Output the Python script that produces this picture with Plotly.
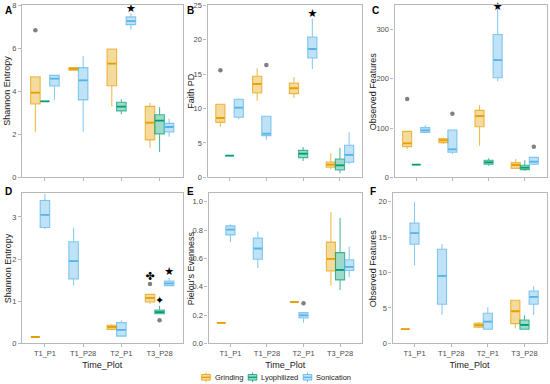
import plotly.graph_objects as go

CATEGORIES = ["T1_P1", "T1_P28", "T2_P1", "T3_P28"]
GROUPS = ["Grinding", "Lyophilized", "Sonication"]
COLORS = {"Grinding": "#E69F00", "Lyophilized": "#009E73", "Sonication": "#56B4E9"}

# rows: (category, lower whisker, q1, median, q3, upper whisker)
A_GRINDING = [("T1_P1", 2.09, 3.41, 3.94, 4.68, 4.68), ("T1_P28", 4.98, 4.98, 5.04, 5.10, 5.10),
              ("T2_P1", 3.29, 4.26, 5.29, 5.97, 5.97), ("T3_P28", 1.38, 1.74, 2.54, 3.30, 3.47)]
A_LYOPHILIZED = [("T1_P1", 3.53, 3.53, 3.53, 3.53, 3.53), ("T2_P1", 2.93, 3.09, 3.29, 3.49, 3.63),
                 ("T3_P28", 1.18, 2.02, 2.64, 2.91, 3.26)]
A_SONICATION = [("T1_P1", 3.60, 4.25, 4.59, 4.74, 4.74), ("T1_P28", 2.12, 3.60, 4.51, 5.10, 5.64),
                ("T2_P1", 6.87, 7.10, 7.26, 7.46, 7.63), ("T3_P28", 1.89, 2.11, 2.34, 2.51, 2.74)]
A_OUTLIERS = [("T1_P1", "Grinding", 6.84)]
A_MARKS = [("T2_P1", "Sonication", 7.84, "★")]

B_GRINDING = [("T1_P1", 7.36, 7.99, 8.62, 10.61, 10.61), ("T1_P28", 11.14, 12.26, 13.57, 14.68, 15.84),
              ("T2_P1", 11.53, 12.16, 12.94, 13.71, 14.53), ("T3_P28", 1.16, 1.45, 1.84, 2.23, 3.49)]
B_LYOPHILIZED = [("T1_P1", 3.15, 3.15, 3.15, 3.15, 3.15), ("T2_P1", 2.37, 2.86, 3.44, 3.92, 4.41),
                 ("T3_P28", 0.58, 1.07, 1.74, 2.66, 4.31)]
B_SONICATION = [("T1_P1", 8.43, 8.72, 10.13, 11.34, 11.48), ("T1_P28", 5.47, 6.06, 6.35, 8.87, 8.87),
                ("T2_P1", 15.75, 17.34, 18.65, 20.40, 23.06), ("T3_P28", 1.89, 2.18, 3.25, 4.65, 6.54)]
B_OUTLIERS = [("T1_P1", "Grinding", 15.55), ("T1_P28", "Sonication", 16.33)]
B_MARKS = [("T2_P1", "Sonication", 23.74, "★")]

C_GRINDING = [("T1_P1", 57.4, 62.2, 68.9, 93.2, 93.2), ("T1_P28", 67.6, 70.3, 75.0, 78.4, 80.4),
              ("T2_P1", 64.2, 102.7, 124.3, 135.8, 146.0), ("T3_P28", 16.9, 18.2, 25.0, 29.7, 37.2)]
C_LYOPHILIZED = [("T1_P1", 25.7, 25.7, 25.7, 25.7, 25.7), ("T2_P1", 23.6, 26.4, 30.4, 34.5, 38.5),
                 ("T3_P28", 12.8, 15.5, 19.6, 24.3, 34.5)]
C_SONICATION = [("T1_P1", 91.2, 91.2, 95.3, 100.7, 105.4), ("T1_P28", 47.3, 50.7, 56.8, 95.9, 95.9),
                ("T2_P1", 195.3, 202.0, 237.8, 289.9, 342.6), ("T3_P28", 25.0, 26.4, 31.8, 40.5, 40.5)]
C_OUTLIERS = [("T1_P1", "Grinding", 158.8), ("T1_P28", "Sonication", 129.0), ("T3_P28", "Sonication", 62.2)]
C_MARKS = [("T2_P1", "Sonication", 346.0, "★")]

D_GRINDING = [("T1_P1", 0.15, 0.15, 0.15, 0.15, 0.15), ("T2_P1", 0.31, 0.33, 0.39, 0.43, 0.46),
              ("T3_P28", 0.93, 0.98, 1.08, 1.16, 1.16)]
D_LYOPHILIZED = [("T3_P28", 0.70, 0.70, 0.74, 0.79, 0.89)]
D_SONICATION = [("T1_P1", 2.71, 2.75, 3.05, 3.39, 3.55), ("T1_P28", 1.38, 1.53, 1.95, 2.41, 2.74),
                ("T2_P1", 0.16, 0.17, 0.32, 0.49, 0.55), ("T3_P28", 1.37, 1.37, 1.42, 1.48, 1.55)]
D_OUTLIERS = [("T3_P28", "Grinding", 1.41), ("T3_P28", "Lyophilized", 0.55)]
D_MARKS = [("T3_P28", "Grinding", 1.57, "✤"), ("T3_P28", "Lyophilized", 1.0, "✦"),
           ("T3_P28", "Sonication", 1.69, "★")]

E_GRINDING = [("T1_P1", 0.144, 0.144, 0.144, 0.144, 0.144), ("T2_P1", 0.292, 0.292, 0.292, 0.292, 0.292),
              ("T3_P28", 0.408, 0.512, 0.597, 0.715, 0.927)]
E_LYOPHILIZED = [("T3_P28", 0.377, 0.448, 0.519, 0.641, 0.885)]
E_SONICATION = [("T1_P1", 0.715, 0.766, 0.804, 0.830, 0.840), ("T1_P28", 0.533, 0.594, 0.670, 0.743, 0.790),
                ("T2_P1", 0.146, 0.179, 0.198, 0.217, 0.217), ("T3_P28", 0.467, 0.514, 0.540, 0.590, 0.684)]
E_OUTLIERS = [("T2_P1", "Sonication", 0.283)]
E_MARKS = []

F_GRINDING = [("T1_P1", 2.0, 2.0, 2.0, 2.0, 2.0), ("T2_P1", 2.12, 2.26, 2.55, 2.83, 3.0),
              ("T3_P28", 2.12, 2.78, 4.53, 6.09, 6.09)]
F_LYOPHILIZED = [("T3_P28", 1.98, 1.98, 2.59, 3.30, 3.96)]
F_SONICATION = [("T1_P1", 11.04, 14.0, 15.57, 17.0, 19.96), ("T1_P28", 4.05, 5.52, 9.53, 13.3, 14.05),
                ("T2_P1", 1.98, 1.98, 3.06, 4.25, 5.1), ("T3_P28", 4.05, 5.52, 6.55, 7.4, 8.07)]
F_OUTLIERS = []
F_MARKS = []

Y_TITLES = ["Shannon Entropy", "Faith PD", "Observed Features",
            "Shannon Entropy", "Pielou's Evenness", "Observed Features"]
LETTERS = ["A", "B", "C", "D", "E", "F"]
Y_RANGES = [[0, 8], [0, 25], [0, 349], [0, 3.56], [0, 1.06], [0, 21.2]]
Y_TICKS = [[0, 2, 4, 6, 8], [0, 5, 10, 15, 20, 25], [0, 100, 200, 300],
           [0, 1, 2, 3], [0, 0.2, 0.4, 0.6, 0.8, 1.0], [0, 5, 10, 15, 20]]
PANEL_DATA = [
    (A_GRINDING, A_LYOPHILIZED, A_SONICATION, A_OUTLIERS, A_MARKS),
    (B_GRINDING, B_LYOPHILIZED, B_SONICATION, B_OUTLIERS, B_MARKS),
    (C_GRINDING, C_LYOPHILIZED, C_SONICATION, C_OUTLIERS, C_MARKS),
    (D_GRINDING, D_LYOPHILIZED, D_SONICATION, D_OUTLIERS, D_MARKS),
    (E_GRINDING, E_LYOPHILIZED, E_SONICATION, E_OUTLIERS, E_MARKS),
    (F_GRINDING, F_LYOPHILIZED, F_SONICATION, F_OUTLIERS, F_MARKS),
]

# ---- layout (pixels) ----
W, H = 550, 384
PANEL_PX = [(22, 182.5, 5.3, 177.3), (207.5, 362, 5.3, 177.3), (394.5, 546.5, 5.3, 177.3),
            (22, 182.5, 193.3, 343.3), (208.5, 362, 193.3, 343.3), (392.5, 546.5, 193.3, 343.3)]
YTITLE_X = [7.5, 191.5, 373, 8, 191, 373]
LETTER_POS = [(8, 10.5), (190.5, 10.5), (375, 10.5), (8.5, 191.5), (190.5, 191.5), (372.5, 191.5)]
FONT = "Liberation Sans, Arial, sans-serif"
DODGE = 0.25
BORDER = "#B8B8B8"


def px(x):
    return x / W


def py(y):
    return 1 - y / H


def rgba(hexc, a):
    h = hexc.lstrip("#")
    return "rgba(%d,%d,%d,%.2f)" % (int(h[0:2], 16), int(h[2:4], 16), int(h[4:6], 16), a)


fig = go.Figure()
annotations = []
shapes = []

for i, (g_rows, l_rows, s_rows, outliers, marks) in enumerate(PANEL_DATA):
    n = i + 1
    xa = "x" if n == 1 else "x%d" % n
    ya = "y" if n == 1 else "y%d" % n
    rows_by_group = {"Grinding": g_rows, "Lyophilized": l_rows, "Sonication": s_rows}
    # dodge positions: present groups fill slots from the left
    pos = {}
    for ci, cat in enumerate(CATEGORIES):
        present = [g for g in GROUPS if any(r[0] == cat for r in rows_by_group[g])]
        for k, g in enumerate(present):
            pos[(cat, g)] = ci + 1 + DODGE * (k - 1)
    for g in GROUPS:
        rows = rows_by_group[g]
        if not rows:
            continue
        xs = [pos[(r[0], g)] for r in rows]
        fig.add_trace(go.Box(
            x=xs,
            lowerfence=[r[1] for r in rows], q1=[r[2] for r in rows], median=[r[3] for r in rows],
            q3=[r[4] for r in rows], upperfence=[r[5] for r in rows],
            width=DODGE, whiskerwidth=0, boxpoints=False,
            fillcolor=rgba(COLORS[g], 0.38), line=dict(color=rgba(COLORS[g], 0.7), width=1.1),
            xaxis=xa, yaxis=ya, showlegend=False, hoverinfo="skip"))
        # bold median segments (ggplot draws the median thicker)
        mx, my = [], []
        for x, r in zip(xs, rows):
            mx += [x - DODGE / 2 + 0.01, x + DODGE / 2 - 0.01, None]
            my += [r[3], r[3], None]
        fig.add_trace(go.Scatter(x=mx, y=my, mode="lines", line=dict(color=COLORS[g], width=1.8),
                                 xaxis=xa, yaxis=ya, showlegend=False, hoverinfo="skip"))
    if outliers:
        fig.add_trace(go.Scatter(
            x=[pos[(c, g)] for c, g, v in outliers], y=[v for c, g, v in outliers],
            mode="markers", marker=dict(color="#808080", size=4.5),
            xaxis=xa, yaxis=ya, showlegend=False, hoverinfo="skip"))
    if marks:
        fig.add_trace(go.Scatter(
            x=[pos[(c, g)] for c, g, v, s in marks], y=[v for c, g, v, s in marks],
            text=[s for c, g, v, s in marks], mode="text",
            textfont=dict(color="black", size=11, family="DejaVu Sans"),
            cliponaxis=False, xaxis=xa, yaxis=ya, showlegend=False, hoverinfo="skip"))

    x0, x1, y0, y1 = PANEL_PX[i]
    bottom = i >= 3
    fig.layout["xaxis" if n == 1 else "xaxis%d" % n] = dict(
        domain=[px(x0), px(x1)], anchor=ya, range=[0.4, 4.6],
        tickvals=[1, 2, 3, 4], ticktext=CATEGORIES, showticklabels=bottom,
        ticks="outside", ticklen=3, tickcolor=BORDER, tickwidth=1,
        tickfont=dict(size=7.5, color="#4D4D4D", family=FONT),
        showline=True, mirror=True, linecolor=BORDER, linewidth=1.2,
        showgrid=False, zeroline=False, fixedrange=True, automargin=False,
        title=dict(text="Time_Plot" if bottom else "", font=dict(size=9, color="#1A1A1A", family=FONT),
                   standoff=4))
    fig.layout["yaxis" if n == 1 else "yaxis%d" % n] = dict(
        domain=[py(y1), py(y0)], anchor=xa, range=Y_RANGES[i], tickvals=Y_TICKS[i],
        tickformat=".1f" if i == 4 else "", ticks="outside", ticklen=3, tickcolor=BORDER, tickwidth=1,
        tickfont=dict(size=7.5, color="#4D4D4D", family=FONT),
        showline=True, mirror=True, linecolor=BORDER, linewidth=1.2,
        showgrid=False, zeroline=False, fixedrange=True, automargin=False)
    annotations.append(dict(text=Y_TITLES[i], x=px(YTITLE_X[i]), y=py((y0 + y1) / 2), xref="paper",
                            yref="paper", textangle=-90, showarrow=False, xanchor="center",
                            yanchor="middle", font=dict(size=9, color="#1A1A1A", family=FONT)))
    lx, ly = LETTER_POS[i]
    annotations.append(dict(text="<b>%s</b>" % LETTERS[i], x=px(lx), y=py(ly), xref="paper", yref="paper",
                            showarrow=False, xanchor="center", yanchor="middle",
                            font=dict(size=10, color="black", family=FONT)))

# manual ggplot-like legend
LEGEND_ICON_X = [206, 252.5, 307.5]
LEGEND_Y = 377.3
for g, cx in zip(GROUPS, LEGEND_ICON_X):
    c = COLORS[g]
    shapes.append(dict(type="line", xref="paper", yref="paper", x0=px(cx), x1=px(cx),
                       y0=py(LEGEND_Y - 4.8), y1=py(LEGEND_Y + 4.8), line=dict(color=rgba(c, 0.8), width=1)))
    shapes.append(dict(type="rect", xref="paper", yref="paper", x0=px(cx - 4.3), x1=px(cx + 4.3),
                       y0=py(LEGEND_Y - 2.8), y1=py(LEGEND_Y + 2.8), fillcolor="white",
                       line=dict(width=0)))
    shapes.append(dict(type="rect", xref="paper", yref="paper", x0=px(cx - 4.3), x1=px(cx + 4.3),
                       y0=py(LEGEND_Y - 2.8), y1=py(LEGEND_Y + 2.8), fillcolor=rgba(c, 0.38),
                       line=dict(color=rgba(c, 0.8), width=1)))
    shapes.append(dict(type="line", xref="paper", yref="paper", x0=px(cx - 4.3), x1=px(cx + 4.3),
                       y0=py(LEGEND_Y), y1=py(LEGEND_Y), line=dict(color=c, width=1.3)))
    annotations.append(dict(text=g, x=px(cx + 6.5), y=py(LEGEND_Y), xref="paper", yref="paper",
                            showarrow=False, xanchor="left", yanchor="middle",
                            font=dict(size=7.5, color="#1A1A1A", family=FONT)))

fig.update_layout(
    width=W, height=H, margin=dict(l=0, r=0, t=0, b=0),
    paper_bgcolor="white", plot_bgcolor="white", boxmode="overlay",
    showlegend=False, annotations=annotations, shapes=shapes,
    font=dict(family=FONT))

fig.write_html("out.html", config={"displayModeBar": False},
               post_script="document.body.style.margin='0';")
